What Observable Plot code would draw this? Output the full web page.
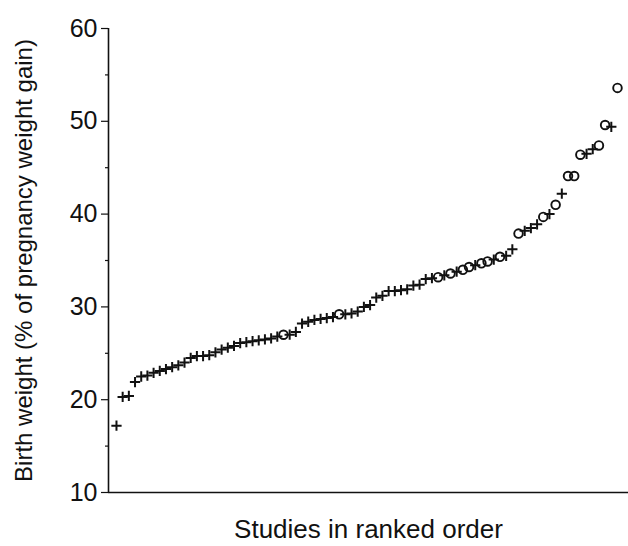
<!DOCTYPE html>
<html>
<head>
<meta charset="utf-8">
<script src="https://cdn.jsdelivr.net/npm/d3@7"></script>
<script src="https://cdn.jsdelivr.net/npm/@observablehq/plot@0.6"></script>
<style>
  html, body { margin: 0; padding: 0; background: #fff; }
  svg { display: block; }
</style>
</head>
<body>
<div id="chart"></div>
<script>
// Birth weight as % of pregnancy weight gain, studies in ranked order
const values = [
  17.2, 20.3, 20.4, 21.9, 22.5, 22.6, 22.9, 23.1, 23.3, 23.5,
  23.7, 24.0, 24.5, 24.7, 24.7, 24.8, 25.1, 25.4, 25.6, 25.8,
  26.1, 26.2, 26.3, 26.4, 26.5, 26.6, 26.8, 27.0, 27.0, 27.3,
  28.2, 28.4, 28.6, 28.7, 28.8, 28.9, 29.2, 29.2, 29.3, 29.5,
  30.0, 30.2, 31.0, 31.2, 31.7, 31.7, 31.8, 31.9, 32.3, 32.4,
  33.0, 33.1, 33.2, 33.4, 33.6, 33.8, 34.0, 34.3, 34.5, 34.7,
  34.9, 35.1, 35.4, 35.5, 36.2, 37.9, 38.2, 38.5, 38.9, 39.7,
  40.0, 41.0, 42.2, 44.1, 44.1, 46.4, 46.5, 47.0, 47.4, 49.6,
  49.4, 53.6
];
// marker type per study: "+" or "o"
const markers = [
  "+","+","+","+","+","+","+","+","+","+",
  "+","+","+","+","+","+","+","+","+","+",
  "+","+","+","+","+","+","+","o","+","+",
  "+","+","+","+","+","+","o","+","+","+",
  "+","+","+","+","+","+","+","+","+","+",
  "+","+","o","+","o","+","o","o","+","o",
  "o","+","o","+","+","o","+","+","+","o",
  "+","o","+","o","o","o","+","+","o","o",
  "+","o"
];
const yTicks = [10, 20, 30, 40, 50, 60];
const yMinorTicks = [15, 25, 35, 45, 55];
const yLabel = "Birth weight (% of pregnancy weight gain)";
const xLabel = "Studies in ranked order";

const data = values.map((v, i) => ({rank: i + 1, value: v, marker: markers[i]}));
const pluses = data.filter(d => d.marker === "+");
const circles = data.filter(d => d.marker === "o");

const xDomain = [-0.29, 83.78];
const font = "'Liberation Sans', Arial, Helvetica, sans-serif";

const chart = Plot.plot({
  width: 628,
  height: 546,
  marginLeft: 108,
  marginRight: 0,
  marginTop: 28,
  marginBottom: 54,
  style: {fontFamily: font, background: "#fff", color: "#111"},
  x: {domain: xDomain, axis: null},
  y: {domain: [10, 60], axis: null},
  marks: [
    Plot.axisY({ticks: yTicks, tickSize: 7, tickPadding: 4, fontSize: 25, label: null, stroke: "#111", strokeWidth: 1.2}),
    Plot.axisY({ticks: yMinorTicks, tickSize: 3, tickFormat: () => "", label: null, stroke: "#111", strokeWidth: 1.2}),
    Plot.ruleX([xDomain[0]], {stroke: "#111", strokeWidth: 1.6}),
    Plot.ruleY([10], {stroke: "#111", strokeWidth: 1.6}),
    Plot.dot(pluses, {x: "rank", y: "value", symbol: "plus", r: 3.4, stroke: "#111", strokeWidth: 2}),
    Plot.dot(circles, {x: "rank", y: "value", symbol: "circle", r: 4.3, stroke: "#111", strokeWidth: 1.9, fill: "none"}),
    Plot.text([yLabel], {frameAnchor: "left", textAnchor: "middle", rotate: -90, dx: -84, fontSize: 24, fill: "#111"}),
    Plot.text([xLabel], {frameAnchor: "bottom", dy: 45, fontSize: 26, fill: "#111"})
  ]
});
document.getElementById("chart").appendChild(chart);
</script>
</body>
</html>
